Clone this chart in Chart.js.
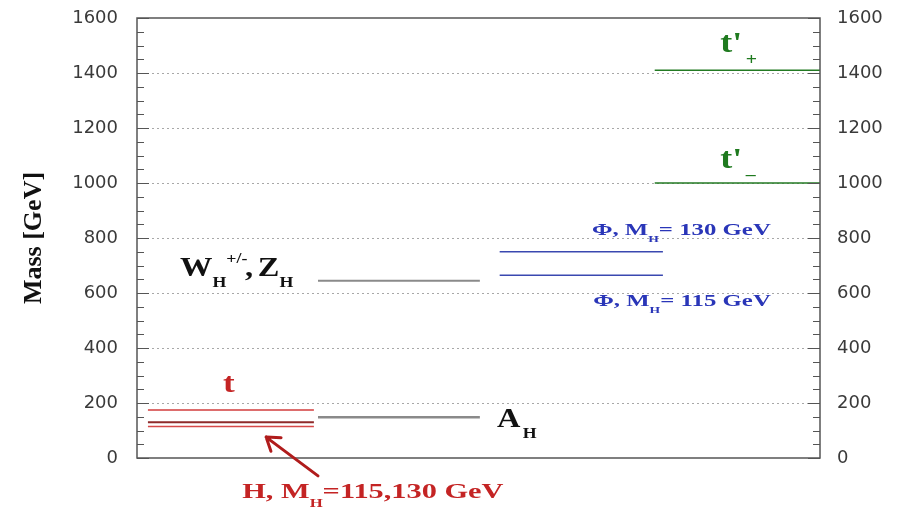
<!DOCTYPE html>
<html>
<head>
<meta charset="utf-8">
<script src="https://cdn.jsdelivr.net/npm/chart.js@4"></script>
<style>
  body { margin: 0; background: #fff; }
  canvas { display: block; }
</style>
</head>
<body>
<canvas id="massChart" width="904" height="510"></canvas>
<script>
// Mass spectrum data (GeV)
const columns = ['t, H', 'W_H, Z_H, A_H', 'Phi', "t'"];
const colFrom = [0.16, 2.65, 5.31, 7.58];   // x-range of each column (axis units 0..10)
const colTo = [2.59, 5.02, 7.70, 10.0];

const topMass = [175];
const higgsMass = [130, 115];
const gaugeMass = [645];     // W_H, Z_H
const aHMass = [148];        // A_H
const phiMass = [750, 665];  // M_H = 130, 115
const tPrimeMass = [1410, 1000];

const yTicks = [0, 200, 400, 600, 800, 1000, 1200, 1400, 1600];

// Build one flat segment per mass level
function segment(col, mass, color, width) {
  return {
    data: [{ x: colFrom[col], y: mass }, { x: colTo[col], y: mass }],
    borderColor: color,
    borderWidth: width,
    pointRadius: 0,
    fill: false
  };
}

const datasets = [
  segment(0, topMass[0], '#d23c3c', 1.5),
  segment(0, higgsMass[0], '#8e2a2a', 2),
  segment(0, higgsMass[1], '#d64848', 1.5),
  segment(1, gaugeMass[0], '#8a8a8a', 2),
  segment(1, aHMass[0], '#8a8a8a', 2.5),
  segment(2, phiMass[0], '#3a48b0', 1.5),
  segment(2, phiMass[1], '#3a48b0', 1.5),
  segment(3, tPrimeMass[0], '#237a23', 1.5),
  segment(3, tPrimeMass[1], '#237a23', 1.5)
];

// Text with sub/superscripts, stretched a little like the original
function drawRich(ctx, x, y, parts, size, color, sx) {
  ctx.save();
  ctx.translate(x, y);
  ctx.scale(sx, 1);
  ctx.fillStyle = color;
  ctx.textBaseline = 'alphabetic';
  let cx = 0;
  parts.forEach(p => {
    const small = p.sub || p.sup;
    const s = small ? size * 0.55 : size;
    ctx.font = 'bold ' + s + 'px "Liberation Serif", "DejaVu Serif", serif';
    const dy = p.sub ? size * 0.42 : (p.sup ? -size * 0.48 : 0);
    cx += p.gap || 0;
    ctx.fillText(p.t, cx, dy);
    cx += ctx.measureText(p.t).width;
  });
  ctx.restore();
}

const labels = [
  { x: 1.26, y: 240, size: 27, sx: 1.3, color: '#c42424', parts: [{ t: 't' }] },
  { x: 0.63, y: 662, size: 27, sx: 1.2, color: '#111', parts: [{ t: 'W' }, { t: 'H', sub: true }, { t: '+/-', sup: true }, { t: ',', gap: -2 }, { t: 'Z', gap: 4 }, { t: 'H', sub: true }] },
  { x: 5.27, y: 113, size: 27, sx: 1.2, color: '#111', parts: [{ t: 'A' }, { t: 'H', sub: true, gap: 2 }] },
  { x: 6.66, y: 811, size: 16, sx: 1.55, color: '#2a36b8', parts: [{ t: 'Φ, M' }, { t: 'H', sub: true }, { t: '= 130 GeV' }] },
  { x: 6.68, y: 553, size: 16, sx: 1.55, color: '#2a36b8', parts: [{ t: 'Φ, M' }, { t: 'H', sub: true }, { t: '= 115 GeV' }] },
  { x: 1.54, y: -145, size: 22, sx: 1.38, color: '#c42424', parts: [{ t: 'H, M' }, { t: 'H', sub: true }, { t: '=115,130 GeV' }] },
  { x: 8.54, y: 1476, size: 30, sx: 1.2, color: '#1f7a1f', parts: [{ t: "t'" }, { t: '+', sub: true, gap: 3 }] },
  { x: 8.54, y: 1055, size: 30, sx: 1.2, color: '#1f7a1f', parts: [{ t: "t'" }, { t: '–', sub: true, gap: 3 }] }
];

const arrowFrom = { x: 2.65, y: -65 };
const arrowTo = { x: 1.89, y: 76 };

const decorPlugin = {
  id: 'decor',
  afterDatasetsDraw(chart) {
    const { ctx, chartArea: a, scales } = chart;
    const ys = scales.y;
    ctx.save();
    // inward ticks on both sides
    ctx.strokeStyle = '#555';
    ctx.lineWidth = 1;
    for (let v = 0; v <= 1600; v += 50) {
      const py = Math.round(ys.getPixelForValue(v)) + 0.5;
      const len = v % 200 === 0 ? 12 : 7;
      ctx.beginPath();
      ctx.moveTo(a.left, py); ctx.lineTo(a.left + len, py);
      ctx.moveTo(a.right, py); ctx.lineTo(a.right - len, py);
      ctx.stroke();
    }
    // frame
    ctx.strokeStyle = '#555';
    ctx.lineWidth = 1.5;
    ctx.strokeRect(a.left, a.top, a.right - a.left, a.bottom - a.top);
    ctx.restore();
  },
  afterDraw(chart) {
    const { ctx, scales } = chart;
    const xs = scales.x, ys = scales.y;
    labels.forEach(l => {
      drawRich(ctx, xs.getPixelForValue(l.x), ys.getPixelForValue(l.y), l.parts, l.size, l.color, l.sx);
    });
    // arrow pointing at the Higgs lines
    const x0 = xs.getPixelForValue(arrowFrom.x), y0 = ys.getPixelForValue(arrowFrom.y);
    const x1 = xs.getPixelForValue(arrowTo.x), y1 = ys.getPixelForValue(arrowTo.y);
    const ang = Math.atan2(y1 - y0, x1 - x0);
    ctx.save();
    ctx.strokeStyle = '#b01c1c';
    ctx.lineWidth = 3;
    ctx.lineCap = 'round';
    ctx.beginPath();
    ctx.moveTo(x0, y0); ctx.lineTo(x1, y1);
    ctx.moveTo(x1, y1); ctx.lineTo(x1 - 15 * Math.cos(ang - 0.6), y1 - 15 * Math.sin(ang - 0.6));
    ctx.moveTo(x1, y1); ctx.lineTo(x1 - 15 * Math.cos(ang + 0.6), y1 - 15 * Math.sin(ang + 0.6));
    ctx.stroke();
    ctx.restore();
  }
};

const tickFont = { family: '"DejaVu Sans", sans-serif', size: 18 };

function fitY(width) {
  return s => { s.width = width; s.paddingTop = 0; s.paddingBottom = 0; };
}

new Chart(document.getElementById('massChart'), {
  type: 'line',
  data: { datasets: datasets },
  plugins: [decorPlugin],
  options: {
    responsive: false,
    animation: false,
    layout: { padding: { top: 18, bottom: 52, left: 0, right: 0 } },
    plugins: { legend: { display: false }, tooltip: { enabled: false } },
    scales: {
      x: { type: 'linear', min: 0, max: 10, display: false },
      y: {
        position: 'left',
        min: 0,
        max: 1600,
        afterBuildTicks: s => { s.ticks = yTicks.map(v => ({ value: v })); },
        afterFit: fitY(137),
        ticks: { font: tickFont, color: '#3a3a3a', padding: 19, callback: v => String(v) },
        grid: {
          drawTicks: false,
          lineWidth: 1,
          color: c => (c.tick && (c.tick.value === 0 || c.tick.value === 1600)) ? 'rgba(0,0,0,0)' : '#a8a8a8'
        },
        border: { display: false, dash: [2, 3] },
        title: {
          display: true,
          text: 'Mass [GeV]',
          color: '#111',
          font: { family: '"Liberation Serif", serif', size: 26, weight: 'bold' },
          padding: { top: 19, bottom: 0 }
        }
      },
      y2: {
        position: 'right',
        min: 0,
        max: 1600,
        afterBuildTicks: s => { s.ticks = yTicks.map(v => ({ value: v })); },
        afterFit: fitY(84),
        ticks: { font: tickFont, color: '#3a3a3a', padding: 17, callback: v => String(v) },
        grid: { drawOnChartArea: false, drawTicks: false },
        border: { display: false }
      }
    }
  }
});
</script>
</body>
</html>
